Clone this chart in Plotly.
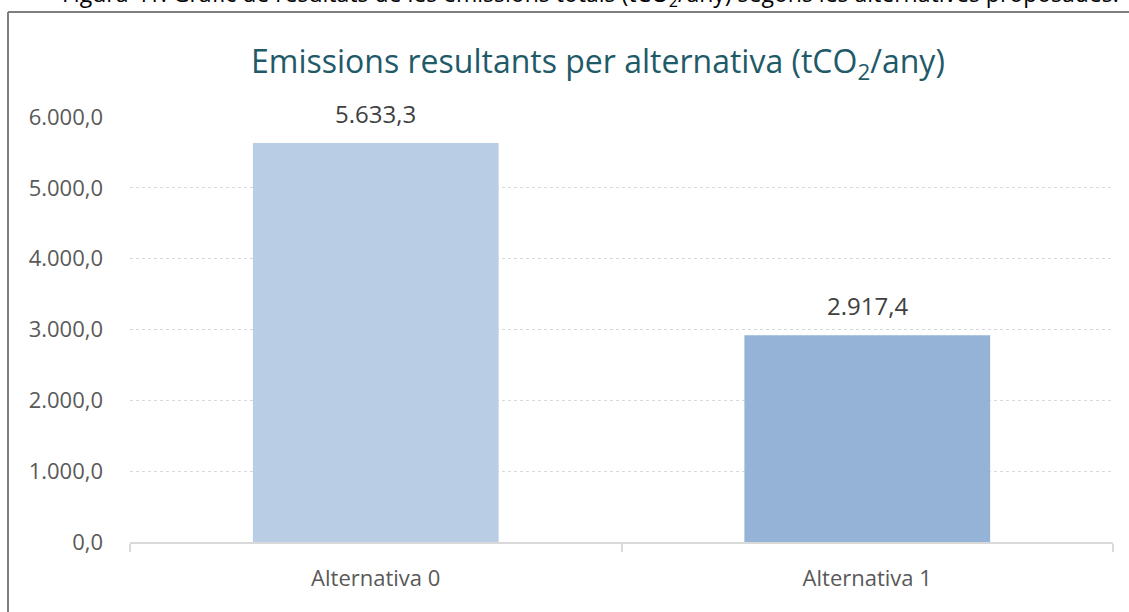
import plotly.graph_objects as go

categories = ['Alternativa 0', 'Alternativa 1']
emissions = [5633.3, 2917.4]
bar_colors = ['#B9CDE5', '#95B3D7']
y_ticks = [0, 1000, 2000, 3000, 4000, 5000, 6000]

title_text = 'Emissions resultants per alternativa (tCO<sub>2</sub>/any)'
caption_text = 'Figura 41. Gràfic de resultats de les emissions totals (tCO<sub>2</sub>/any) segons les alternatives proposades.'

# plot area in pixels: x 130..1113, y 117..542
W, H = 1129, 612
L, R, T, B = 130, 16, 117, 70
pw, ph = W - L - R, H - T - B

def px_x(px):
    return (px - L) / pw

def px_y(py):
    return (H - B - py) / ph

def fmt(v):
    # catalan style: 5.633,3
    return f"{v:,.1f}".replace(',', 'X').replace('.', ',').replace('X', '.')

fig = go.Figure()
fig.add_trace(go.Bar(x=categories, y=emissions,
                     marker=dict(color=bar_colors, line_width=0),
                     width=0.5, hoverinfo='skip'))

annotations = []
for cat, val in zip(categories, emissions):
    annotations.append(dict(x=cat, y=val, xref='x', yref='y',
                            text=fmt(val),
                            showarrow=False, yanchor='bottom', yshift=11,
                            font=dict(family='Open Sans', size=24, color='#404040')))

annotations.append(dict(x=px_x(598), y=px_y(63), xref='paper', yref='paper',
                        text=title_text, showarrow=False,
                        xanchor='center', yanchor='middle',
                        font=dict(family='Open Sans', size=32, color='#1F5A69')))

# caption of the document, mostly cut off at the top edge
annotations.append(dict(x=px_x(590), y=px_y(-6), xref='paper', yref='paper',
                        text=caption_text, showarrow=False,
                        xanchor='center', yanchor='middle',
                        font=dict(family='Open Sans', size=23, color='#000000')))

fig.update_layout(
    width=W, height=H,
    margin=dict(l=L, r=R, t=T, b=B),
    paper_bgcolor='white', plot_bgcolor='white',
    separators=',.',
    showlegend=False,
    annotations=annotations,
    shapes=[
        dict(type='line', xref='paper', yref='paper',
             x0=px_x(8), x1=px_x(1135), y0=px_y(12), y1=px_y(12),
             line=dict(color='#7F7F7F', width=2)),
        dict(type='line', xref='paper', yref='paper',
             x0=px_x(8), x1=px_x(8), y0=px_y(12), y1=px_y(620),
             line=dict(color='#7F7F7F', width=2)),
    ],
    xaxis=dict(
        showline=True, linecolor='#D9D9D9', linewidth=2,
        ticks='outside', tickson='boundaries', ticklen=8,
        tickcolor='#D9D9D9', tickwidth=2,
        showgrid=False,
        tickfont=dict(family='Open Sans', size=22, color='#595959'),
        ticklabelstandoff=16,
    ),
    yaxis=dict(
        range=[0, 6000], tickvals=y_ticks, tickformat=',.1f',
        showline=False, zeroline=False,
        showgrid=True, gridcolor='#D9D9D9', gridwidth=1, griddash='dot',
        tickfont=dict(family='Open Sans', size=22, color='#595959'),
        ticklabelstandoff=26,
    ),
)

fig.write_html("out.html", config={'displayModeBar': False},
               post_script="document.body.style.margin='0';document.body.style.overflow='hidden';")
